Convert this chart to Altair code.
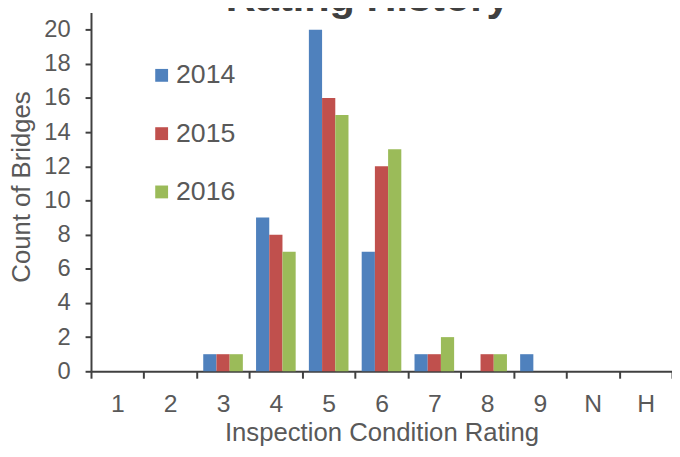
import altair as alt
import pandas as pd

ratings = ["1", "2", "3", "4", "5", "6", "7", "8", "9", "N", "H"]
years = ["2014", "2015", "2016"]
counts_2014 = [0, 0, 1, 9, 20, 7, 1, 0, 1, 0, 0]
counts_2015 = [0, 0, 1, 8, 16, 12, 1, 1, 0, 0, 0]
counts_2016 = [0, 0, 1, 7, 15, 13, 2, 1, 0, 0, 0]
colors = ["#4F81BD", "#C0504D", "#9BBB59"]
y_ticks = [0, 2, 4, 6, 8, 10, 12, 14, 16, 18, 20]

rows = []
for year, series in zip(years, [counts_2014, counts_2015, counts_2016]):
    for r, c in zip(ratings, series):
        rows.append({"rating": r, "year": year, "count": c})
df = pd.DataFrame(rows)

FONT = "Liberation Sans"
TXT = "#595959"
AX = "#404040"

chart = alt.Chart(df).mark_bar().encode(
    x=alt.X(
        "rating:N",
        sort=ratings,
        scale=alt.Scale(paddingInner=0, paddingOuter=0),
        axis=alt.Axis(
            title="Inspection Condition Rating",
            tickBand="extent",
            labelAngle=0,
            labelFontSize=25,
            labelPadding=14,
            labelColor=TXT,
            labelFont=FONT,
            tickSize=7,
            tickWidth=2,
            tickColor=AX,
            domainColor=AX,
            domainWidth=2,
            titleFontSize=26,
            titleFontWeight="normal",
            titleFont=FONT,
            titleColor=TXT,
            titleBaseline="alphabetic",
            titleY=70,
        ),
    ),
    xOffset=alt.XOffset(
        "year:N", sort=years, scale=alt.Scale(paddingInner=0, paddingOuter=0.5)
    ),
    y=alt.Y(
        "count:Q",
        scale=alt.Scale(domain=[0, 21], nice=False),
        axis=alt.Axis(
            title="Count of Bridges",
            values=y_ticks,
            grid=False,
            labelFontSize=24,
            labelPadding=15,
            labelColor=TXT,
            labelFont=FONT,
            tickSize=6,
            tickWidth=2,
            tickColor=AX,
            domainColor=AX,
            domainWidth=2,
            titleFontSize=26,
            titleFontWeight="normal",
            titleFont=FONT,
            titleColor=TXT,
            titleBaseline="alphabetic",
            titleX=-62,
            titleY=176,
            titleAngle=-90,
        ),
    ),
    color=alt.Color(
        "year:N",
        sort=years,
        scale=alt.Scale(domain=years, range=colors),
        legend=alt.Legend(
            title=None,
            orient="none",
            legendX=58,
            legendY=50,
            symbolType="square",
            symbolSize=169,
            symbolStrokeWidth=0,
            labelFontSize=27,
            labelFont=FONT,
            labelColor=TXT,
            labelOffset=1,
            rowPadding=31,
        ),
    ),
).properties(
    width=588,
    height=363,
    title=alt.TitleParams(
        text="Rating History",
        fontSize=42,
        fontWeight="bold",
        font=FONT,
        color=AX,
        anchor="middle",
        frame="group",
        baseline="alphabetic",
        offset=-40,
        dx=-14,
    ),
    autosize=alt.AutoSizeParams(type="none"),
    padding={"left": 84, "top": 2, "right": 0, "bottom": 76},
).configure_view(stroke=None)

chart.save("out.html", embed_options={"renderer": "svg", "actions": False})
